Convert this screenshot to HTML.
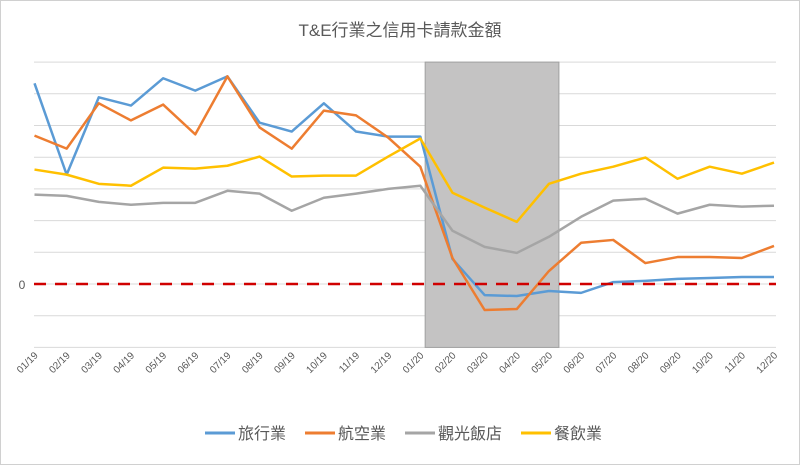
<!DOCTYPE html>
<html><head><meta charset="utf-8"><style>
body{margin:0;background:#fff;font-family:"Liberation Sans","Noto Sans CJK TC",sans-serif}
svg{display:block}
</style></head><body>
<svg id="c" width="800" height="465" xmlns="http://www.w3.org/2000/svg">
<rect x="0.5" y="0.5" width="799" height="464" fill="#fff" stroke="#d0d0d0"/>
<text x="400" y="36" text-anchor="middle" font-size="17" fill="#595959" font-family="Liberation Sans, Noto Sans CJK TC, sans-serif">T&amp;E行業之信用卡請款金額</text>
<g id="grid"></g><g id="shade"></g><g id="lines"></g><g id="xl"></g>
<g font-size="16" fill="#595959" font-family="Liberation Sans, Noto Sans CJK TC, sans-serif">
<line x1="205" y1="433" x2="235" y2="433" stroke="#5b9bd5" stroke-width="3"/><text x="238" y="439">旅行業</text>
<line x1="305" y1="433" x2="335" y2="433" stroke="#ed7d31" stroke-width="3"/><text x="338" y="439">航空業</text>
<line x1="405" y1="433" x2="435" y2="433" stroke="#a5a5a5" stroke-width="3"/><text x="438" y="439">觀光飯店</text>
<line x1="521" y1="433" x2="551" y2="433" stroke="#ffc000" stroke-width="3"/><text x="554" y="439">餐飲業</text>
</g>
</svg>
<script>
const categories=["01/19","02/19","03/19","04/19","05/19","06/19","07/19","08/19","09/19","10/19","11/19","12/19","01/20","02/20","03/20","04/20","05/20","06/20","07/20","08/20","09/20","10/20","11/20","12/20"];
const travel=[6.33,3.45,5.89,5.63,6.49,6.1,6.55,5.09,4.81,5.7,4.81,4.65,4.65,0.79,-0.35,-0.38,-0.22,-0.28,0.06,0.1,0.16,0.19,0.22,0.22];
const airline=[4.68,4.27,5.7,5.16,5.66,4.72,6.55,4.94,4.27,5.47,5.32,4.62,3.7,0.82,-0.82,-0.79,0.41,1.3,1.39,0.66,0.85,0.85,0.82,1.2];
const hotel=[2.82,2.78,2.59,2.5,2.56,2.56,2.94,2.85,2.31,2.72,2.85,3.0,3.1,1.68,1.17,0.98,1.49,2.12,2.63,2.69,2.22,2.5,2.44,2.47];
const restaurant=[3.61,3.45,3.16,3.1,3.67,3.64,3.73,4.02,3.39,3.42,3.42,4.02,4.59,2.88,2.41,1.96,3.16,3.48,3.7,3.99,3.32,3.7,3.48,3.83];
const yTicks=[-2,-1,0,1,2,3,4,5,6,7];
const shadeRange=["01/20","05/20"];
const NS="http://www.w3.org/2000/svg";
const X=i=>34.5+i*(774-34.5)/(categories.length-1);
const Y=v=>284-v*31.7;
function mk(t,a,p){const e=document.createElementNS(NS,t);for(const k in a)e.setAttribute(k,a[k]);p.appendChild(e);return e;}
const grid=document.getElementById('grid');
yTicks.forEach(v=>{const l=mk('line',{x1:34,x2:776,y1:Y(v),y2:Y(v),stroke:'#d9d9d9','stroke-width':1},grid);

});
const zt=mk('text',{x:22,y:Y(0)+5,'text-anchor':'middle','font-size':12,fill:'#595959'},grid);zt.textContent='0';


const i0=categories.indexOf(shadeRange[0])+0.15,i1=categories.indexOf(shadeRange[1])+0.31;
const sh=mk('rect',{x:X(i0),y:Y(7),width:X(i1)-X(i0),height:Y(-2)-Y(7),fill:'#c4c3c3',stroke:'#a0a0a0'},document.getElementById('shade'));


const lines=document.getElementById('lines');
const series=[[travel,'#5b9bd5','travel-line'],[airline,'#ed7d31','airline-line'],[hotel,'#a5a5a5','hotel-line'],[restaurant,'#ffc000','restaurant-line']];
const zl=mk('line',{x1:34,x2:776,y1:Y(0),y2:Y(0),stroke:'#d00000','stroke-width':2.5,'stroke-dasharray':'12 9'},lines);


series.forEach(([d,c,n])=>{const p=mk('polyline',{points:d.map((v,i)=>X(i)+','+Y(v)).join(' '),fill:'none',stroke:c,'stroke-width':2.5,'stroke-linejoin':'round'},lines);

});
lines.appendChild(zl);
const xl=document.getElementById('xl');
categories.forEach((c,i)=>{const t=mk('text',{x:X(i)+4,y:356,'text-anchor':'end','font-size':10,fill:'#595959',transform:`rotate(-45 ${X(i)+4} 356)`},xl);t.textContent=c;

});
</script>
</body></html>
